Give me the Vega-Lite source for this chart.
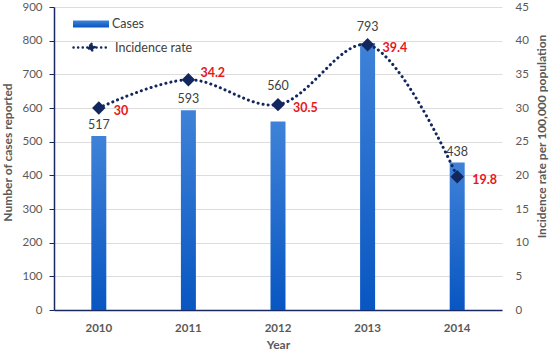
{
  "$schema": "https://vega.github.io/schema/vega-lite/v6.json",
  "width": 448,
  "height": 303,
  "autosize": {"type": "none"},
  "padding": {"left": 54, "top": 7, "right": 48, "bottom": 44},
  "background": "white",
  "config": {
    "view": {"stroke": null},
    "font": "Lato",
    "axis": {"labelFont": "Lato", "titleFont": "Lato", "labelColor": "#595959", "titleColor": "#595959"}
  },
  "data": {
    "values": [
      {"year": "2010", "cases": 517, "rate": 30},
      {"year": "2011", "cases": 593, "rate": 34.2},
      {"year": "2012", "cases": 560, "rate": 30.5},
      {"year": "2013", "cases": 793, "rate": 39.4},
      {"year": "2014", "cases": 438, "rate": 19.8}
    ]
  },
  "encoding": {
    "x": {
      "field": "year",
      "type": "ordinal",
      "scale": {"paddingInner": 0, "paddingOuter": 0},
      "axis": {
        "title": "Year",
        "labelAngle": 0,
        "labelFontSize": 11.5,
        "labelFontWeight": "bold",
        "labelPadding": 12,
        "ticks": false,
        "domainColor": "#17295F",
        "domainWidth": 1.5,
        "titleFontSize": 12,
        "titleFontWeight": "bold",
        "titlePadding": 6
      }
    }
  },
  "layer": [
    {
      "encoding": {
        "y": {
          "field": "cases",
          "type": "quantitative",
          "scale": {"domain": [0, 900], "nice": false},
          "axis": {
            "title": "Number of cases reported",
            "values": [0, 100, 200, 300, 400, 500, 600, 700, 800, 900],
            "orient": "left",
            "labelFontSize": 11.5,
            "labelPadding": 7,
            "tickSize": 5,
            "tickColor": "#17295F",
            "domainColor": "#17295F",
            "domainWidth": 1.5,
            "gridColor": "#DDDDDD",
            "titleFontSize": 12,
            "titleFontWeight": "bold",
            "titlePadding": 7,
            "titleY": 145
          }
        }
      },
      "layer": [
        {
          "mark": {
            "type": "bar",
            "size": 15,
            "color": {
              "gradient": "linear",
              "x1": 0, "y1": 0, "x2": 0, "y2": 1,
              "stops": [
                {"offset": 0, "color": "#3F82D8"},
                {"offset": 1, "color": "#0856C2"}
              ]
            }
          },
          "encoding": {
            "strokeDash": {
              "datum": "Cases",
              "scale": {"range": [[1, 0]]},
              "legend": {
                "title": null,
                "orient": "none",
                "legendX": 19,
                "legendY": -1,
                "symbolType": "M-1,-0.19H1V0.19H-1Z",
                "symbolSize": 1296,
                "symbolFillColor": "#2468CC",
                "symbolStrokeColor": "#2468CC",
                "symbolStrokeWidth": 0,
                "labelFontSize": 12.5,
                "labelColor": "#404040",
                "labelFont": "Lato",
                "labelOffset": 3
              }
            }
          }
        },
        {
          "transform": [{"filter": "datum.year != '2012' && datum.year != '2013'"}],
          "mark": {"type": "text", "baseline": "bottom", "dy": -4, "fontSize": 12.5, "color": "#404040", "font": "Lato"},
          "encoding": {"text": {"field": "cases", "type": "quantitative"}}
        },
        {
          "transform": [{"filter": "datum.year == '2013'"}],
          "mark": {"type": "text", "baseline": "bottom", "dy": -9, "fontSize": 12.5, "color": "#404040", "font": "Lato"},
          "encoding": {"text": {"field": "cases", "type": "quantitative"}}
        },
        {
          "transform": [{"filter": "datum.year == '2012'"}],
          "mark": {"type": "text", "baseline": "bottom", "dy": -28, "fontSize": 12.5, "color": "#404040", "font": "Lato"},
          "encoding": {"text": {"field": "cases", "type": "quantitative"}}
        }
      ]
    },
    {
      "encoding": {
        "y": {
          "field": "rate",
          "type": "quantitative",
          "scale": {"domain": [0, 45], "nice": false},
          "axis": {
            "title": "Incidence rate per 100,000 population",
            "orient": "right",
            "values": [0, 5, 10, 15, 20, 25, 30, 35, 40, 45],
            "grid": false,
            "domain": false,
            "ticks": false,
            "labelFontSize": 11.5,
            "labelPadding": 13,
            "titleFontSize": 12,
            "titleFontWeight": "bold",
            "titleAngle": -90,
            "titleAlign": "center",
            "titleBaseline": "middle",
            "titleX": 39,
            "titleY": 129
          }
        }
      },
      "layer": [
        {
          "mark": {"type": "line", "interpolate": "catmull-rom", "strokeWidth": 3, "strokeDash": [0.1, 5], "strokeCap": "round"},
          "encoding": {
            "color": {
              "datum": "Incidence rate",
              "scale": {"range": ["#12275E"]},
              "legend": {
                "title": null,
                "orient": "none",
                "legendX": 18,
                "legendY": 21,
                "symbolType": "M-1,0H1M0,-0.2L0.2,0L0,0.2L-0.2,0Z",
                "symbolSize": 1296,
                "symbolStrokeWidth": 2.5,
                "symbolDash": [0.1, 4.5],
                "labelFontSize": 12.5,
                "labelColor": "#404040",
                "labelFont": "Lato",
                "labelOffset": 4,
                "encode": {"symbols": {"update": {"fill": {"value": "#12275E"}, "strokeCap": {"value": "round"}}}}
              }
            }
          }
        },
        {
          "mark": {"type": "point", "shape": "diamond", "size": 180, "filled": true, "opacity": 1, "color": "#12275E"}
        },
        {
          "transform": [{"filter": "datum.year != '2011'"}],
          "mark": {"type": "text", "align": "left", "baseline": "middle", "dx": 15, "dy": 3, "fontSize": 12.5, "fontWeight": "bold", "color": "#E8161B", "font": "Lato"},
          "encoding": {"text": {"field": "rate", "type": "quantitative"}}
        },
        {
          "transform": [{"filter": "datum.year == '2011'"}],
          "mark": {"type": "text", "align": "left", "baseline": "middle", "dx": 12, "dy": -7, "fontSize": 12.5, "fontWeight": "bold", "color": "#E8161B", "font": "Lato"},
          "encoding": {"text": {"field": "rate", "type": "quantitative"}}
        }
      ]
    }
  ],
  "resolve": {"scale": {"y": "independent"}}
}
